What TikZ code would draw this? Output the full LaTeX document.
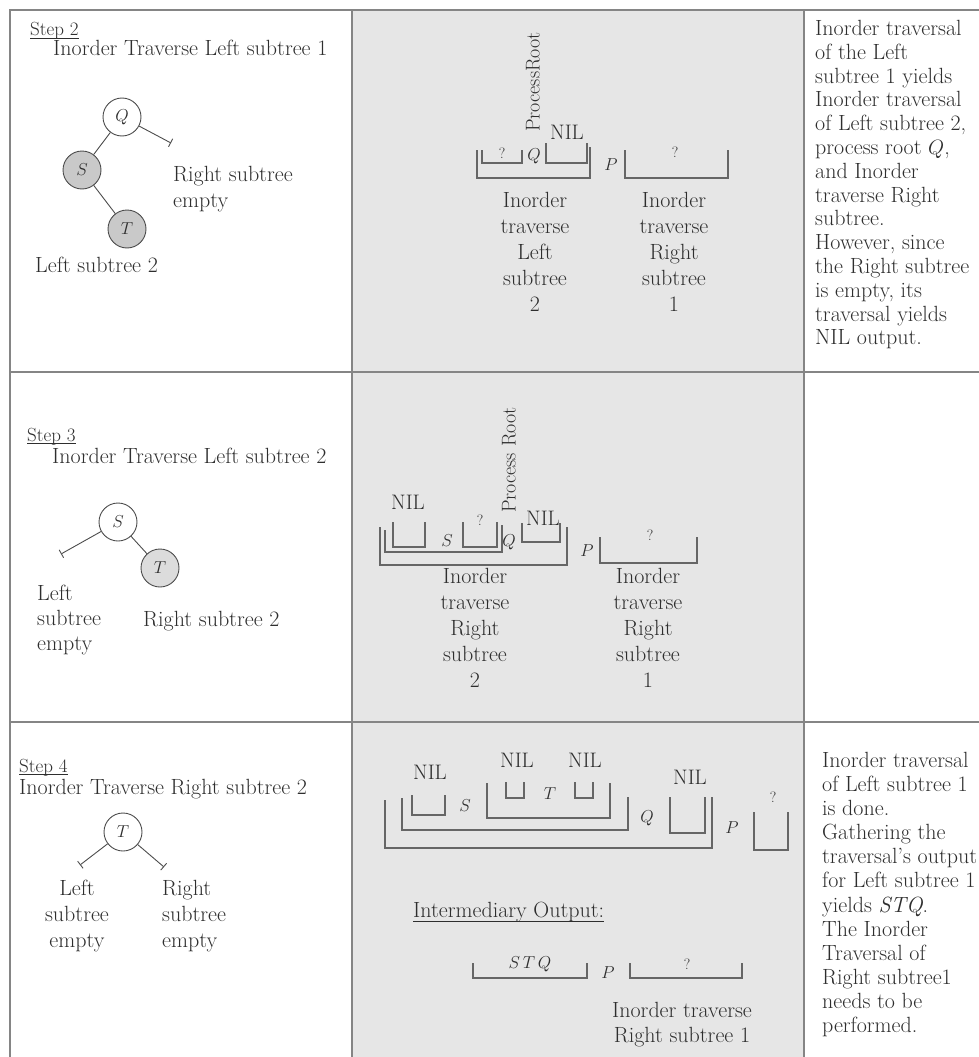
\documentclass[tikz,border=0pt]{standalone}
\usepackage{fontspec}
\usetikzlibrary{arrows.meta}
\definecolor{cellgray}{HTML}{E6E6E6}
\definecolor{rulegray}{HTML}{858585}
\definecolor{inkgray}{HTML}{2E2E2E}
\definecolor{nodefill}{HTML}{C9C9C9}
\definecolor{nodefilltwo}{HTML}{DCDCDC}
\begin{document}
\begin{tikzpicture}[x=1pt,y=-1pt,
  every node/.style={inner sep=0pt,text=inkgray},
  txt/.style={font=\fontsize{22}{26}\selectfont},
  para/.style={font=\fontsize{22}{23.8}\selectfont,align=left,anchor=north west},
  lbl/.style={font=\fontsize{22}{26}\selectfont,align=center,anchor=north},
  steplbl/.style={font=\fontsize{19}{22}\selectfont,anchor=base west},
  uline/.style={draw=inkgray,line width=0.8pt},
  nil/.style={font=\fontsize{21}{24}\selectfont},
  sym/.style={font=\fontsize{18}{20}\selectfont},
  qmark/.style={font=\fontsize{15}{16}\selectfont},
  vert/.style={font=\fontsize{20}{24}\selectfont,rotate=90},
  tnode/.style={circle,draw=black!70,line width=0.9pt,minimum size=38pt,fill=white,font=\fontsize{16}{18}\selectfont},
  edge/.style={draw=black!70,line width=0.9pt},
  nilend/.style={edge,-{Bar[width=9pt,line width=0.9pt]}},
  bk/.style={draw=black!60,line width=1.1pt},
  rule/.style={draw=rulegray,line width=1.5pt}
]
\useasboundingbox (0,0) rectangle (979,1057);
% shaded middle column
\fill[cellgray] (352,10) rectangle (804,1060);
% table rules
\draw[rule] (10,1060) -- (10,10) -- (985,10);
\draw[rule] (352,10) -- (352,1060);
\draw[rule] (804,10) -- (804,1060);
\draw[rule] (10,372) -- (985,372);
\draw[rule] (10,722) -- (985,722);

% ---------------- Step 2 ----------------
\node[steplbl] (s2) at (30,36) {Step 2};
\draw[uline] ([yshift=-2.5pt]s2.base west) -- ([yshift=-2.5pt]s2.base east);
\node[txt,anchor=base west] (s2t) at (53,56) {Inorder Traverse Left subtree 1};
\node[tnode] (Q2) at (122,117) {$Q$};
\node[tnode,fill=nodefill] (S2) at (82,170) {$S$};
\node[tnode,fill=nodefill] (T2) at (127,229) {$T$};
\coordinate (Q2r) at (171,143);
\draw[edge] (Q2) -- (S2);
\draw[edge] (S2) -- (T2);
\draw[nilend] (Q2) -- (Q2r);
\node[para,font=\fontsize{22}{26}\selectfont] (rse2) at (173,166) {Right subtree\\empty};
\node[txt,anchor=base west] (ls2) at (35,272) {Left subtree 2};

% middle, step 2
\node[vert] (pr2) at (533,82) {ProcessRoot};
\node[nil] (nil2) at (567,132) {NIL};
\draw[bk] (482,150) -- (482,163) -- (522,163) -- (522,150);
\node[qmark] (q2a) at (502,153) {?};
\node[sym] (Q2m) at (534,156) {$Q$};
\draw[bk] (546,143) -- (546,163) -- (587,163) -- (587,143);
\draw[bk] (477,150) -- (477,178) -- (590,178) -- (590,147);
\node[sym] (P2) at (611,165) {$P$};
\draw[bk] (625,150) -- (625,178) -- (728,178) -- (728,150);
\node[qmark] (q2b) at (675,152) {?};
\node[lbl] (l2a) at (535,192) {Inorder\\traverse\\Left\\subtree\\2};
\node[lbl] (l2b) at (674,192) {Inorder\\traverse\\Right\\subtree\\1};

% right, step 2
\node[para] (d2) at (815,20) {Inorder traversal\\of the Left\\subtree 1 yields\\Inorder traversal\\of Left subtree 2,\\process root $Q$,\\and Inorder\\traverse Right\\subtree.\\However, since\\the Right subtree\\is empty, its\\traversal yields\\NIL output.};

% ---------------- Step 3 ----------------
\node[steplbl] (s3) at (27,441) {Step 3};
\draw[uline] ([yshift=-2.5pt]s3.base west) -- ([yshift=-2.5pt]s3.base east);
\node[txt,anchor=base west] (s3t) at (52,463) {Inorder Traverse Left subtree 2};
\node[tnode] (S3) at (118,522) {$S$};
\node[tnode,fill=nodefilltwo] (T3) at (160,568) {$T$};
\coordinate (S3l) at (61,554);
\draw[nilend] (S3) -- (S3l);
\draw[edge] (S3) -- (T3);
\node[para,font=\fontsize{22}{25}\selectfont] (lse3) at (37,585) {Left\\subtree\\empty};
\node[txt,anchor=base west] (rs3) at (143,626) {Right subtree 2};

% middle, step 3
\node[vert] (pr3) at (509,460) {Process Root};
\node[nil] (nil3a) at (408,502) {NIL};
\draw[bk] (393,522) -- (393,547) -- (425,547) -- (425,522);
\node[sym] (S3m) at (447,541) {$S$};
\draw[bk] (463,522) -- (463,547) -- (497,547) -- (497,522);
\node[qmark] (q3a) at (480,520) {?};
\draw[bk] (385,530) -- (385,552) -- (502,552) -- (502,525);
\node[sym] (Q3m) at (509,542) {$Q$};
\draw[bk] (522,523) -- (522,542) -- (560,542) -- (560,523);
\node[nil] (nil3b) at (543,518) {NIL};
\draw[bk] (380,527) -- (380,565) -- (567,565) -- (567,527);
\node[sym] (P3) at (587,551) {$P$};
\draw[bk] (600,537) -- (600,563) -- (697,563) -- (697,537);
\node[qmark] (q3b) at (650,535) {?};
\node[lbl] (l3a) at (475,568) {Inorder\\traverse\\Right\\subtree\\2};
\node[lbl] (l3b) at (648,568) {Inorder\\traverse\\Right\\subtree\\1};

% ---------------- Step 4 ----------------
\node[steplbl] (s4) at (19,772) {Step 4};
\draw[uline] ([yshift=-2.5pt]s4.base west) -- ([yshift=-2.5pt]s4.base east);
\node[txt,anchor=base west] (s4t) at (19,794) {Inorder Traverse Right subtree 2};
\node[tnode] (T4) at (123,832) {$T$};
\coordinate (T4l) at (80,865);
\coordinate (T4r) at (164,867);
\draw[nilend] (T4) -- (T4l);
\draw[nilend] (T4) -- (T4r);
\node[lbl] (lse4) at (77,880) {Left\\subtree\\empty};
\node[para,font=\fontsize{22}{26}\selectfont] (rse4) at (162,880) {Right\\subtree\\empty};

% middle, step 4
\node[nil] (nil4a) at (430,772) {NIL};
\draw[bk] (412,795) -- (412,815) -- (445,815) -- (445,795);
\node[sym] (S4m) at (465,806) {$S$};
\node[nil] (nil4b) at (517,760) {NIL};
\node[nil] (nil4c) at (585,760) {NIL};
\draw[bk] (506,782) -- (506,798) -- (524,798) -- (524,782);
\node[sym] (T4m) at (550,794) {$T$};
\draw[bk] (575,782) -- (575,798) -- (593,798) -- (593,782);
\draw[bk] (487,783) -- (487,818) -- (610,818) -- (610,783);
\draw[bk] (402,798) -- (402,830) -- (628,830) -- (628,797);
\node[sym] (Q4m) at (647,818) {$Q$};
\node[nil] (nil4d) at (690,777) {NIL};
\draw[bk] (670,797) -- (670,833) -- (705,833) -- (705,797);
\draw[bk] (385,800) -- (385,848) -- (712,848) -- (712,797);
\node[sym] (P4) at (732,828) {$P$};
\draw[bk] (754,812) -- (754,850) -- (788,850) -- (788,812);
\node[qmark] (q4a) at (773,797) {?};

\node[txt,anchor=base west] (io) at (413,917) {Intermediary Output:};
\draw[uline] ([yshift=-4pt]io.base west) -- ([yshift=-4pt]io.base east);
\draw[bk] (473,963) -- (473,978) -- (587,978) -- (587,963);
\node[sym] (stq) at (530,964) {$S\,T\,Q$};
\node[sym] (P4b) at (608,973) {$P$};
\draw[bk] (630,963) -- (630,978) -- (742,978) -- (742,963);
\node[qmark] (q4b) at (687,964) {?};
\node[lbl,font=\fontsize{22}{25}\selectfont] (l4) at (682,1002) {Inorder traverse\\Right subtree 1};

% right, step 4
\node[para,font=\fontsize{22}{24.1}\selectfont] (d4) at (822,752) {Inorder traversal\\of Left subtree 1\\is done.\\Gathering the\\traversal's output\\for Left subtree 1\\yields \textit{STQ}.\\The Inorder\\Traversal of\\Right subtree1\\needs to be\\performed.};
\end{tikzpicture}
\end{document}
